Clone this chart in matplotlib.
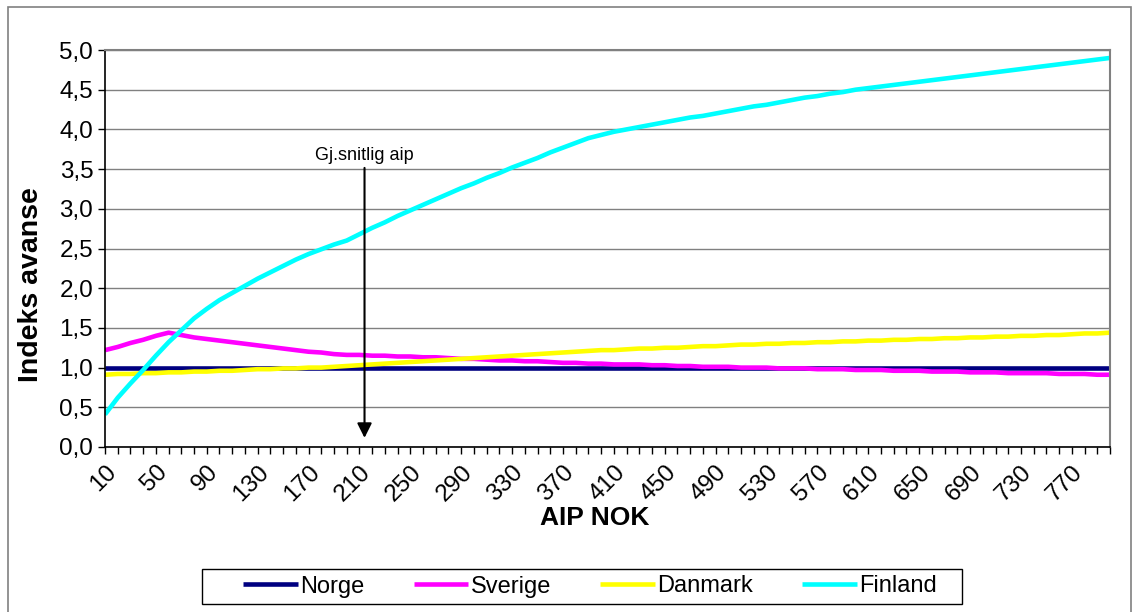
import matplotlib
matplotlib.use('Agg')
import matplotlib.pyplot as plt
from matplotlib.patches import Rectangle

plt.rcParams['font.family'] = ['Liberation Sans', 'DejaVu Sans']

# AIP-kategorier (NOK), 10 til 800
aip = list(range(10, 801, 10))

norge = [1.00] * 80

sverige = [1.22, 1.26, 1.31, 1.35, 1.40, 1.44, 1.41, 1.38, 1.36, 1.34,
           1.32, 1.30, 1.28, 1.26, 1.24, 1.22, 1.20, 1.19, 1.17, 1.16,
           1.16, 1.15, 1.15, 1.14, 1.14, 1.13, 1.13, 1.12, 1.11, 1.11,
           1.10, 1.09, 1.09, 1.08, 1.08, 1.07, 1.06, 1.06, 1.05, 1.05,
           1.04, 1.04, 1.04, 1.03, 1.03, 1.02, 1.02, 1.01, 1.01, 1.01,
           1.00, 1.00, 1.00, 0.99, 0.99, 0.99, 0.98, 0.98, 0.98, 0.97,
           0.97, 0.97, 0.96, 0.96, 0.96, 0.95, 0.95, 0.95, 0.94, 0.94,
           0.94, 0.93, 0.93, 0.93, 0.93, 0.92, 0.92, 0.92, 0.91, 0.91]

danmark = [0.91, 0.92, 0.92, 0.93, 0.93, 0.94, 0.94, 0.95, 0.95, 0.96,
           0.96, 0.97, 0.98, 0.98, 0.99, 0.99, 1.00, 1.00, 1.01, 1.02,
           1.03, 1.04, 1.05, 1.06, 1.07, 1.08, 1.09, 1.10, 1.11, 1.12,
           1.13, 1.14, 1.15, 1.16, 1.17, 1.18, 1.19, 1.20, 1.21, 1.22,
           1.22, 1.23, 1.24, 1.24, 1.25, 1.25, 1.26, 1.27, 1.27, 1.28,
           1.29, 1.29, 1.30, 1.30, 1.31, 1.31, 1.32, 1.32, 1.33, 1.33,
           1.34, 1.34, 1.35, 1.35, 1.36, 1.36, 1.37, 1.37, 1.38, 1.38,
           1.39, 1.39, 1.40, 1.40, 1.41, 1.41, 1.42, 1.43, 1.43, 1.44]

finland = [0.41, 0.62, 0.80, 0.97, 1.15, 1.32, 1.47, 1.62, 1.74, 1.85,
           1.94, 2.03, 2.12, 2.20, 2.28, 2.36, 2.43, 2.49, 2.55, 2.60,
           2.68, 2.76, 2.83, 2.91, 2.98, 3.05, 3.12, 3.19, 3.26, 3.32,
           3.39, 3.45, 3.52, 3.58, 3.64, 3.71, 3.77, 3.83, 3.89, 3.93,
           3.97, 4.00, 4.03, 4.06, 4.09, 4.12, 4.15, 4.17, 4.20, 4.23,
           4.26, 4.29, 4.31, 4.34, 4.37, 4.40, 4.42, 4.45, 4.47, 4.50,
           4.52, 4.54, 4.56, 4.58, 4.60, 4.62, 4.64, 4.66, 4.68, 4.70,
           4.72, 4.74, 4.76, 4.78, 4.80, 4.82, 4.84, 4.86, 4.88, 4.90]

serier = [('Norge', norge, '#000080'),
          ('Sverige', sverige, '#FF00FF'),
          ('Danmark', danmark, '#FFFF00'),
          ('Finland', finland, '#00FFFF')]

# gjennomsnittlig aip (posisjon i kategoriaksen)
snitt_pos = 20.4

W, H = 1137, 612
fig = plt.figure(figsize=(W / 100, H / 100), dpi=100)
ax = fig.add_axes([105 / W, 1 - 447 / H, (1110 - 105) / W, (447 - 50) / H])

# ramme rundt hele diagrammet
fig.patches.append(Rectangle((8 / W, -0.01), (1131 - 8) / W, 1 - 7 / H + 0.01,
                             transform=fig.transFigure, fill=False,
                             edgecolor='#808080', lw=1.2))

x = list(range(len(aip)))
for navn, verdier, farge in serier:
    ax.plot(x, verdier, color=farge, lw=3.3, label=navn, solid_capstyle='butt')

ax.set_xlim(0, len(aip) - 1)
ax.set_ylim(0, 5)

yt = [i * 0.5 for i in range(11)]
ax.set_yticks(yt)
ax.set_yticklabels([f'{v:.1f}'.replace('.', ',') for v in yt], fontsize=17.5)
ax.yaxis.grid(True, color='#808080', lw=1)
ax.set_axisbelow(True)

ax.set_xticks(x)
ax.set_xticklabels([str(v) if i % 4 == 0 else '' for i, v in enumerate(aip)],
                   rotation=45, ha='right', rotation_mode='anchor', fontsize=17.5)
ax.tick_params(axis='both', direction='out', length=5, width=1, color='black')
ax.tick_params(axis='x', pad=5)

for s in ['left', 'bottom']:
    ax.spines[s].set_color('black')
    ax.spines[s].set_linewidth(1.2)
for s in ['top', 'right']:
    ax.spines[s].set_color('#808080')
    ax.spines[s].set_linewidth(1.5)

ax.set_xlabel('AIP NOK', fontsize=19, fontweight='bold')
ax.xaxis.set_label_coords((595 - 105) / 1005, (447 - 506) / 397)
ax.set_ylabel('Indeks avanse', fontsize=20.5, fontweight='bold')
ax.yaxis.set_label_coords((44 - 105) / 1005, (447 - 285) / 397)

ax.annotate('', xy=(snitt_pos, 0.08), xytext=(snitt_pos, 3.55),
            arrowprops=dict(arrowstyle='-|>', color='black', lw=1.5,
                            mutation_scale=22))
ax.text(snitt_pos, 3.57, 'Gj.snitlig aip', ha='center', va='bottom', fontsize=13)

# forklaring med egen ramme
leg = fig.legend(loc='center', bbox_to_anchor=(590 / W, 1 - 586.5 / H), ncol=4,
                 fontsize=17, frameon=False, handlelength=2.3,
                 handletextpad=0.1, columnspacing=2.1)
fig.patches.append(Rectangle((202 / W, 1 - 604 / H), (962 - 202) / W, 35 / H,
                             transform=fig.transFigure, fill=False,
                             edgecolor='black', lw=1))

fig.savefig('out.png', dpi=100)
